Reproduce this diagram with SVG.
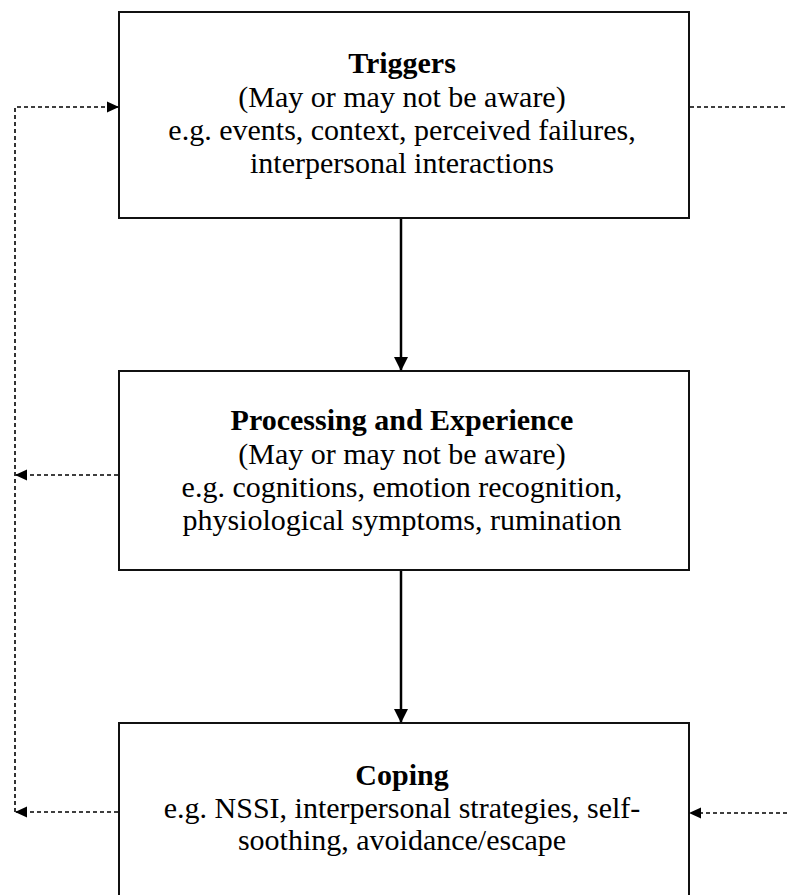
<svg xmlns="http://www.w3.org/2000/svg" width="787" height="895" viewBox="0 0 787 895">
<style>
.box{fill:#fff;stroke:#111;stroke-width:2}
.t{font-family:"Liberation Serif","Times New Roman",serif;font-size:30px;fill:#000;text-anchor:middle}
.b{font-weight:bold}
.dash{fill:none;stroke:#000;stroke-width:1.6;stroke-dasharray:4,3}
.solid{fill:none;stroke:#000;stroke-width:2.5}
</style>
<defs>
<marker id="ah" markerWidth="12" markerHeight="12" refX="11" refY="6" orient="auto" markerUnits="userSpaceOnUse"><path d="M0,0.5 L12,6 L0,11.5 Z" fill="#000"/></marker>
<marker id="ahs" markerWidth="14" markerHeight="14" refX="13" refY="7" orient="auto" markerUnits="userSpaceOnUse"><path d="M0,0 L14,7 L0,14 Z" fill="#000"/></marker>
</defs>
<g id="triggers">
<rect class="box" x="119" y="12" width="570" height="206"/>
<text class="t b" x="402" y="73">Triggers</text>
<text class="t" x="402" y="107">(May or may not be aware)</text>
<text class="t" x="402" y="140">e.g. events, context, perceived failures,</text>
<text class="t" x="402" y="173">interpersonal interactions</text>
</g>
<g id="processing">
<rect class="box" x="119" y="371" width="570" height="199"/>
<text class="t b" x="402" y="430">Processing and Experience</text>
<text class="t" x="402" y="464">(May or may not be aware)</text>
<text class="t" x="402" y="497">e.g. cognitions, emotion recognition,</text>
<text class="t" x="402" y="530">physiological symptoms, rumination</text>
</g>
<g id="coping">
<rect class="box" x="119" y="723" width="570" height="190"/>
<text class="t b" x="402" y="785">Coping</text>
<text class="t" x="402" y="818">e.g. NSSI, interpersonal strategies, self-</text>
<text class="t" x="402" y="850">soothing, avoidance/escape</text>
</g>
<g id="connectors">
<line class="solid" x1="401" y1="219" x2="401" y2="370" marker-end="url(#ahs)"/>
<line class="solid" x1="401" y1="571" x2="401" y2="722" marker-end="url(#ahs)"/>
<polyline class="dash" points="15,812 15,107 118,107" marker-end="url(#ah)"/>
<line class="dash" x1="118" y1="475" x2="16" y2="475" marker-end="url(#ah)"/>
<line class="dash" x1="118" y1="812" x2="16" y2="812" marker-end="url(#ah)"/>
<line class="dash" x1="690" y1="107" x2="787" y2="107"/>
<line class="dash" x1="787" y1="813" x2="690" y2="813" marker-end="url(#ah)"/>
</g>
</svg>
